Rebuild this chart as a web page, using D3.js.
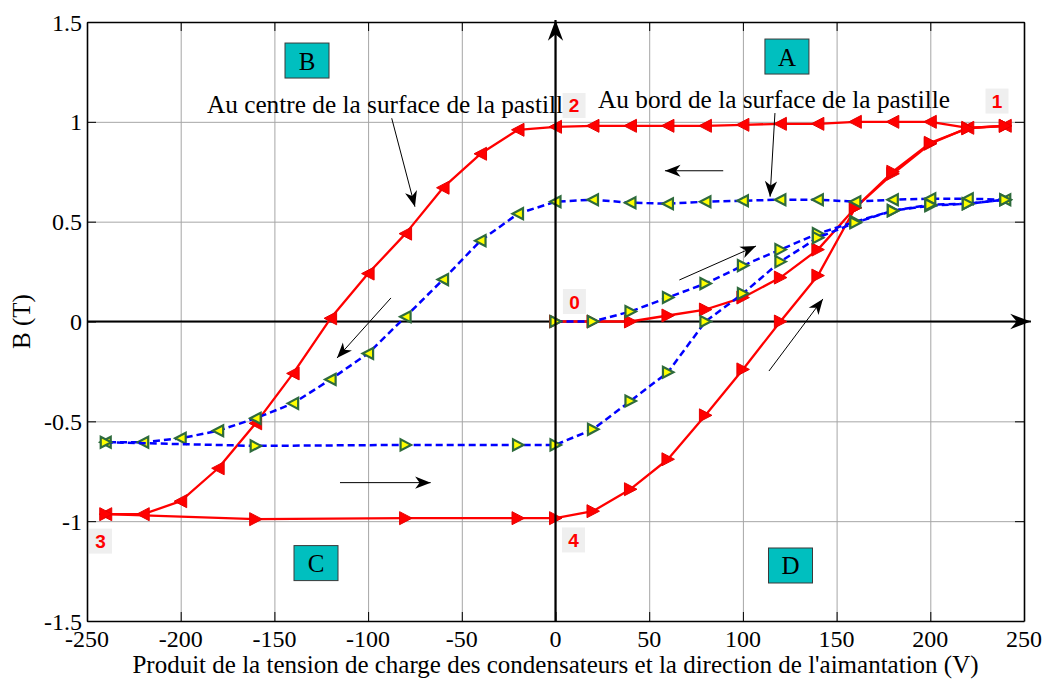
<!DOCTYPE html>
<html>
<head>
<meta charset="utf-8">
<script src="https://cdn.jsdelivr.net/npm/d3@7"></script>
<style>
  html, body { margin: 0; padding: 0; background: #fff; }
  svg { display: block; }
  text.serif { font-family: "Liberation Serif", "Times New Roman", Times, serif; }
  text.sansb { font-family: "Liberation Sans", Arial, Helvetica, sans-serif; font-weight: bold; }
</style>
</head>
<body>
<svg id="chart" width="1046" height="680"></svg>
<script>
// ---------- DATA ----------
const xTicks = [-250, -200, -150, -100, -50, 0, 50, 100, 150, 200, 250];
const xTickLabels = ["-250", "-200", "-150", "-100", "-50", "0", "50", "100", "150", "200", "250"];
const yTicks = [-1.5, -1, -0.5, 0, 0.5, 1, 1.5];
const yTickLabels = ["-1.5", "-1", "-0.5", "0", "0.5", "1", "1.5"];

// Au centre (red) : initial curve 0 -> 1
const redInitX = [0, 20, 40, 60, 80, 100, 120, 140, 160, 180, 200, 220, 240];
const redInitY = [0, 0, 0, 0.03, 0.06, 0.12, 0.22, 0.36, 0.57, 0.74, 0.89, 0.97, 0.98];
// 1 -> 2 -> 3
const redDescX = [240, 220, 200, 180, 160, 140, 120, 100, 80, 60, 40, 20, 0, -20, -40, -60, -80, -100, -120, -140, -160, -180, -200, -220, -240];
const redDescY = [0.98, 0.97, 1.0, 1.0, 1.0, 0.99, 0.99, 0.985, 0.98, 0.98, 0.98, 0.98, 0.975, 0.96, 0.84, 0.67, 0.44, 0.24, 0.016, -0.26, -0.51, -0.735, -0.90, -0.965, -0.965];
// 3 -> 4 -> 1
const redAscX = [-240, -160, -80, -20, 0, 20, 40, 60, 80, 100, 120, 140, 160, 180, 200, 220, 240];
const redAscY = [-0.965, -0.99, -0.985, -0.985, -0.985, -0.95, -0.84, -0.69, -0.47, -0.24, 0.0, 0.23, 0.57, 0.75, 0.895, 0.967, 0.98];

// Au bord (blue dashed)
const blueInitX = [0, 20, 40, 60, 80, 100, 120, 140, 160, 180, 200, 220, 240];
const blueInitY = [0, 0, 0.05, 0.12, 0.19, 0.28, 0.36, 0.44, 0.50, 0.555, 0.58, 0.59, 0.61];
const blueDescX = [240, 220, 200, 180, 160, 140, 120, 100, 80, 60, 40, 20, 0, -20, -40, -60, -80, -100, -120, -140, -160, -180, -200, -220, -240];
const blueDescY = [0.61, 0.615, 0.615, 0.61, 0.60, 0.61, 0.61, 0.605, 0.60, 0.59, 0.595, 0.61, 0.60, 0.54, 0.405, 0.21, 0.024, -0.16, -0.29, -0.41, -0.485, -0.547, -0.585, -0.605, -0.605];
const blueAscX = [-240, -160, -80, -20, 0, 20, 40, 60, 80, 100, 120, 140, 160, 180, 200, 220, 240];
const blueAscY = [-0.605, -0.623, -0.618, -0.618, -0.618, -0.54, -0.398, -0.254, 0.0, 0.14, 0.30, 0.42, 0.495, 0.555, 0.585, 0.59, 0.61];

// Annotations (data units)
const quadrantLabels = ["B", "A", "C", "D"];
const quadrantX = [-132.6, 123.5, -127.8, 125.4];
const quadrantY = [1.307, 1.327, -1.21, -1.222];

const pointLabels = ["2", "1", "0", "3", "4"];
const pointLabelX = [9.9, 235.6, 10.1, -242.8, 9.6];
const pointLabelY = [1.082, 1.104, 0.10, -1.10, -1.094];

const noteTexts = ["Au centre de la surface de la pastill", "Au bord de la surface de la pastille"];
const noteX = [-186, 22.7];
const noteY = [1.044, 1.07];

const arrowX1 = [-87.4, 117.1, 89.5, 66.1, 113.9, -87.8, -115.0];
const arrowY1 = [1.018, 1.044, 0.755, 0.208, -0.248, 0.118, -0.807];
const arrowX2 = [-75.0, 114.5, 58.4, 107.0, 142.7, -116.6, -66.6];
const arrowY2 = [0.575, 0.625, 0.755, 0.378, 0.113, -0.183, -0.807];

const xLabel = "Produit de la tension de charge des condensateurs et la direction de l'aimantation (V)";
const yLabel = "B (T)";

// ---------- LAYOUT ----------
const svg = d3.select("#chart");
const L = 87, R = 1024, T = 22, B = 621;
const x = d3.scaleLinear().domain([-250, 250]).range([L, R]);
const y = d3.scaleLinear().domain([-1.5, 1.5]).range([B, T]);

const defs = svg.append("defs");
defs.append("marker").attr("id", "ah").attr("markerUnits", "userSpaceOnUse")
  .attr("markerWidth", 20).attr("markerHeight", 20).attr("refX", 0).attr("refY", 0)
  .attr("viewBox", "-16 -8 18 16").attr("orient", "auto")
  .append("path").attr("d", "M0,0 L-14,-5.5 L-10,0 L-14,5.5 Z").attr("fill", "#000");
defs.append("marker").attr("id", "ahBig").attr("markerUnits", "userSpaceOnUse")
  .attr("markerWidth", 24).attr("markerHeight", 24).attr("refX", 0).attr("refY", 0)
  .attr("viewBox", "-20 -10 22 20").attr("orient", "auto")
  .append("path").attr("d", "M0,0 L-19,-7 L-13,0 L-19,7 Z").attr("fill", "#000");

// grid
svg.append("g").attr("transform", `translate(0,${B})`)
  .call(d3.axisBottom(x).tickValues(xTicks).tickSize(-(B - T)).tickFormat(""))
  .call(g => g.select(".domain").remove())
  .call(g => g.selectAll("line").attr("stroke", "#a6a6a6").attr("stroke-width", 1));
svg.append("g").attr("transform", `translate(${L},0)`)
  .call(d3.axisLeft(y).tickValues(yTicks).tickSize(-(R - L)).tickFormat(""))
  .call(g => g.select(".domain").remove())
  .call(g => g.selectAll("line").attr("stroke", "#a6a6a6").attr("stroke-width", 1));

// frame + inward ticks (no d3 labels; labels drawn below from the same scales)
const tk = 9;
const axB = svg.append("g").attr("transform", `translate(0,${B})`)
  .call(d3.axisBottom(x).tickValues(xTicks).tickSizeInner(-tk).tickSizeOuter(0).tickFormat(""));
const axT = svg.append("g").attr("transform", `translate(0,${T})`)
  .call(d3.axisTop(x).tickValues(xTicks).tickSizeInner(-tk).tickSizeOuter(0).tickFormat(""));
const axL = svg.append("g").attr("transform", `translate(${L},0)`)
  .call(d3.axisLeft(y).tickValues(yTicks).tickSizeInner(-tk).tickSizeOuter(0).tickFormat(""));
const axR = svg.append("g").attr("transform", `translate(${R},0)`)
  .call(d3.axisRight(y).tickValues(yTicks).tickSizeInner(-tk).tickSizeOuter(0).tickFormat(""));
[axB, axT, axL, axR].forEach(g => {
  g.select(".domain").attr("stroke", "#000").attr("stroke-width", 1.6);
  g.selectAll("line").attr("stroke", "#000").attr("stroke-width", 1);
  g.selectAll("text").remove();
});

svg.append("g").selectAll("text").data(xTicks).join("text").attr("class", "serif")
  .attr("x", d => x(d)).attr("y", B + 26).attr("text-anchor", "middle")
  .attr("font-size", 24).attr("fill", "#000").text((d, i) => xTickLabels[i]);
svg.append("g").selectAll("text").data(yTicks).join("text").attr("class", "serif")
  .attr("x", L - 5).attr("y", d => y(d) + 8.5).attr("text-anchor", "end")
  .attr("font-size", 24).attr("fill", "#000").text((d, i) => yTickLabels[i]);

// axis labels
svg.append("text").attr("class", "serif").attr("x", x(0)).attr("y", 673).attr("text-anchor", "middle")
  .attr("font-size", 25).text(xLabel);
svg.append("text").attr("class", "serif").attr("transform", `translate(30,${y(0)}) rotate(-90)`)
  .attr("text-anchor", "middle").attr("font-size", 25).text(yLabel);

// horizontal main axis (B = 0) with arrow
svg.append("line").attr("x1", x(-250)).attr("x2", x(253.7)).attr("y1", y(0)).attr("y2", y(0))
  .attr("stroke", "#000").attr("stroke-width", 2.2).attr("marker-end", "url(#ahBig)");

// ---------- CURVES ----------
const line = d3.line().x(d => x(d[0])).y(d => y(d[1]));
function zip(a, b) { return a.map((v, i) => [v, b[i]]); }

const triRight = "M6.5,0 L-6,-6.5 L-6,6.5 Z";
const triLeft = "M-6.5,0 L6,-6.5 L6,6.5 Z";

function drawSeries(xs, ys, opts) {
  const pts = zip(xs, ys);
  svg.append("path").datum(pts).attr("d", line).attr("fill", "none")
    .attr("stroke", opts.color).attr("stroke-width", opts.width)
    .attr("stroke-dasharray", opts.dash || null).attr("stroke-linejoin", "round");
  svg.append("g").selectAll("path").data(pts).join("path")
    .attr("transform", d => `translate(${x(d[0])},${y(d[1])})`)
    .attr("d", opts.marker)
    .attr("fill", opts.mfill).attr("stroke", opts.mstroke).attr("stroke-width", opts.mwidth)
    .attr("stroke-linejoin", "miter");
}

const redStyle = { color: "#ff0000", width: 2.3, mfill: "#ff0000", mstroke: "#e60000", mwidth: 1 };
const blueStyle = { color: "#0000ff", width: 2.5, dash: "7,4", mfill: "#ffff00", mstroke: "#2e6b3c", mwidth: 2.2 };

drawSeries(redInitX, redInitY, { ...redStyle, marker: triRight });
drawSeries(redDescX, redDescY, { ...redStyle, marker: triLeft });
drawSeries(redAscX, redAscY, { ...redStyle, marker: triRight });

const triRightS = "M5.5,0 L-5,-5.5 L-5,5.5 Z";
const triLeftS = "M-5.5,0 L5,-5.5 L5,5.5 Z";
drawSeries(blueInitX, blueInitY, { ...blueStyle, marker: triRightS });
drawSeries(blueDescX, blueDescY, { ...blueStyle, marker: triLeftS });
drawSeries(blueAscX, blueAscY, { ...blueStyle, marker: triRightS });

// vertical main axis (H = 0) with arrow
svg.append("line").attr("x1", x(0)).attr("x2", x(0)).attr("y1", y(-1.5)).attr("y2", y(1.51))
  .attr("stroke", "#000").attr("stroke-width", 2.2).attr("marker-end", "url(#ahBig)");

// ---------- ANNOTATIONS ----------
svg.append("g").selectAll("line").data(arrowX1).join("line")
  .attr("x1", (d, i) => x(arrowX1[i])).attr("y1", (d, i) => y(arrowY1[i]))
  .attr("x2", (d, i) => x(arrowX2[i])).attr("y2", (d, i) => y(arrowY2[i]))
  .attr("stroke", "#000").attr("stroke-width", 1).attr("marker-end", "url(#ah)");

svg.append("g").selectAll("text").data(noteTexts).join("text").attr("class", "serif")
  .attr("x", (d, i) => x(noteX[i])).attr("y", (d, i) => y(noteY[i]))
  .attr("font-size", 25.3).attr("fill", "#000").text(d => d);

const qW = 44, qH = 35;
const qg = svg.append("g").selectAll("g").data(quadrantLabels).join("g")
  .attr("transform", (d, i) => `translate(${x(quadrantX[i])},${y(quadrantY[i])})`);
qg.append("rect").attr("x", -qW / 2).attr("y", -qH / 2).attr("width", qW).attr("height", qH)
  .attr("fill", "#00bfbf").attr("stroke", "#3a3a3a").attr("stroke-width", 1);
qg.append("text").attr("class", "serif").attr("text-anchor", "middle").attr("y", 9)
  .attr("font-size", 25).attr("fill", "#000").text(d => d);

const pW = 23, pH = 25;
const pg = svg.append("g").selectAll("g").data(pointLabels).join("g")
  .attr("transform", (d, i) => `translate(${x(pointLabelX[i])},${y(pointLabelY[i])})`);
pg.append("rect").attr("x", -pW / 2).attr("y", -pH / 2).attr("width", pW).attr("height", pH)
  .attr("fill", "#efefef");
pg.append("text").attr("class", "sansb").attr("text-anchor", "middle").attr("y", 7)
  .attr("font-size", 19).attr("fill", "#ff0000").text(d => d);
</script>
</body>
</html>
